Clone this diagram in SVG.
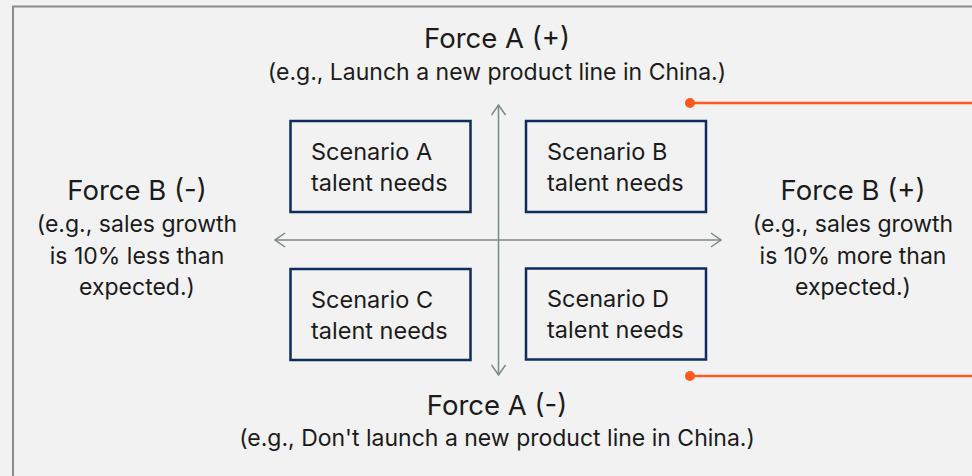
<svg xmlns="http://www.w3.org/2000/svg" width="972" height="476" viewBox="0 0 972 476">
<defs>
<style>
.t{font-family:Inter,"Liberation Sans",Arial,sans-serif;fill:#1b1b1b;text-anchor:middle}
.h{font-size:27.5px}
.s{font-size:23px}
.n{font-size:23.5px;text-anchor:start}
.box{fill:none;stroke:#0d2d5e;stroke-width:2.5}
.ax{stroke:#7d8788;stroke-width:1.5;fill:none}
.or{stroke:#fe5a1d;stroke-width:2.5;fill:none}
</style>
<marker id="ah" viewBox="0 0 12 16" refX="11" refY="8" markerWidth="12" markerHeight="16" markerUnits="userSpaceOnUse" orient="auto-start-reverse">
<path d="M1,1 L11,8 L1,15" fill="none" stroke="#7d8788" stroke-width="1.5"/>
</marker>
</defs>
<rect width="972" height="476" fill="#f2f2f2"/>
<rect x="13" y="6.5" width="980" height="490" fill="none" stroke="#868b8b" stroke-width="2"/>
<g id="connectors">
<line class="ax" x1="498.5" y1="105" x2="498.5" y2="375" marker-start="url(#ah)" marker-end="url(#ah)"/>
<line class="ax" x1="275" y1="240" x2="721" y2="240" marker-start="url(#ah)" marker-end="url(#ah)"/>
<line class="or" x1="690" y1="103" x2="972" y2="103"/>
<circle cx="690" cy="103" r="5" fill="#fe5a1d"/>
<line class="or" x1="690" y1="376" x2="972" y2="376"/>
<circle cx="690" cy="376" r="5" fill="#fe5a1d"/>
</g>
<g id="forceAplus">
<text class="t h" x="497" y="48">Force A (+)</text>
<text class="t s" x="497" y="80">(e.g., Launch a new product line in China.)</text>
</g>
<g id="forceAminus">
<text class="t h" x="497" y="415">Force A (-)</text>
<text class="t s" x="497" y="446">(e.g., Don't launch a new product line in China.)</text>
</g>
<g id="forceBminus">
<text class="t h" x="137" y="200">Force B (-)</text>
<text class="t s" x="137" y="232">(e.g., sales growth</text>
<text class="t s" x="137" y="264">is 10% less than</text>
<text class="t s" x="137" y="295">expected.)</text>
</g>
<g id="forceBplus">
<text class="t h" x="853" y="200">Force B (+)</text>
<text class="t s" x="853" y="232">(e.g., sales growth</text>
<text class="t s" x="853" y="264">is 10% more than</text>
<text class="t s" x="853" y="295">expected.)</text>
</g>
<g id="scenarioA">
<rect class="box" x="290.5" y="121" width="180" height="91"/>
<text class="t n" x="311" y="160">Scenario A</text>
<text class="t n" x="311" y="191">talent needs</text>
</g>
<g id="scenarioB">
<rect class="box" x="526" y="121" width="180" height="91"/>
<text class="t n" x="547" y="160">Scenario B</text>
<text class="t n" x="547" y="191">talent needs</text>
</g>
<g id="scenarioC">
<rect class="box" x="290.5" y="269" width="180" height="91"/>
<text class="t n" x="311" y="308">Scenario C</text>
<text class="t n" x="311" y="339">talent needs</text>
</g>
<g id="scenarioD">
<rect class="box" x="526" y="268.5" width="180" height="91"/>
<text class="t n" x="547" y="307">Scenario D</text>
<text class="t n" x="547" y="338">talent needs</text>
</g>
</svg>
